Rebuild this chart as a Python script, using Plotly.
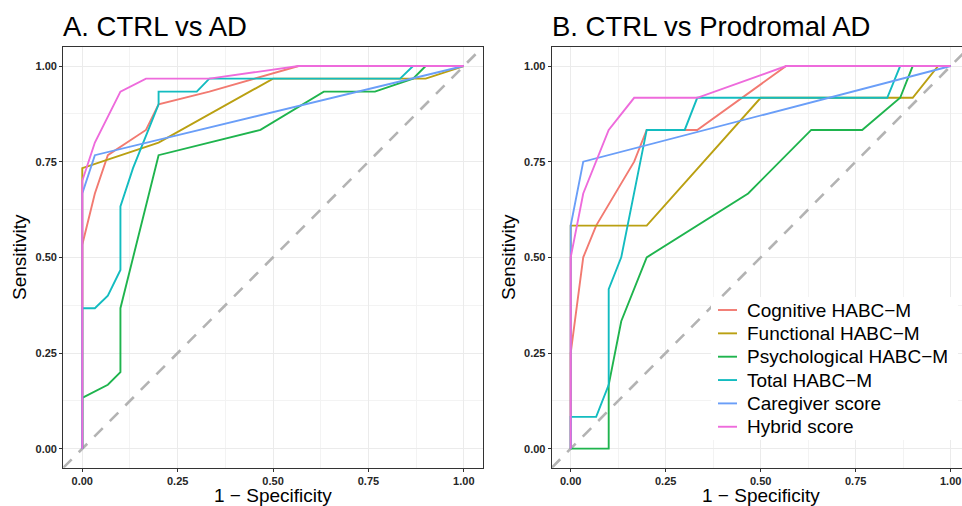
import plotly.graph_objects as go

# ---------------- data ----------------
series_names = ["Cognitive HABC\u2212M", "Functional HABC\u2212M", "Psychological HABC\u2212M",
                "Total HABC\u2212M", "Caregiver score", "Hybrid score"]
series_colors = ["#F27A71", "#BAA012", "#1FB44E", "#13BCC0", "#6A9EF8", "#EE6BDC"]

# Panel A: CTRL vs AD  (x = 1 - specificity, y = sensitivity)
a_cog_x = [0, 0, 0.033, 0.067, 0.167, 0.2, 0.333, 0.567, 1]
a_cog_y = [0, 0.533, 0.667, 0.767, 0.833, 0.9, 0.933, 1, 1]
a_fun_x = [0, 0, 0.2, 0.5, 0.9, 1]
a_fun_y = [0, 0.733, 0.8, 0.967, 0.967, 1]
a_psy_x = [0, 0, 0.067, 0.1, 0.1, 0.2, 0.467, 0.633, 0.767, 0.867, 0.9, 1]
a_psy_y = [0, 0.133, 0.167, 0.2, 0.367, 0.767, 0.833, 0.933, 0.933, 0.967, 1, 1]
a_tot_x = [0, 0, 0.033, 0.067, 0.1, 0.1, 0.133, 0.2, 0.2, 0.3, 0.333, 0.833, 0.867, 1]
a_tot_y = [0, 0.367, 0.367, 0.4, 0.467, 0.633, 0.733, 0.9, 0.933, 0.933, 0.967, 0.967, 1, 1]
a_car_x = [0, 0, 0.033, 1]
a_car_y = [0, 0.667, 0.767, 1]
a_hyb_x = [0, 0, 0.033, 0.1, 0.167, 0.333, 0.567, 1]
a_hyb_y = [0, 0.7, 0.8, 0.933, 0.967, 0.967, 1, 1]

# Panel B: CTRL vs Prodromal AD
b_cog_x = [0, 0, 0.033, 0.067, 0.167, 0.2, 0.333, 0.567, 1]
b_cog_y = [0, 0.25, 0.5, 0.583, 0.75, 0.833, 0.833, 1, 1]
b_fun_x = [0, 0, 0.2, 0.5, 0.9, 0.967, 1]
b_fun_y = [0, 0.583, 0.583, 0.917, 0.917, 1, 1]
b_psy_x = [0, 0.1, 0.1, 0.133, 0.2, 0.467, 0.633, 0.767, 0.867, 0.9, 1]
b_psy_y = [0, 0, 0.167, 0.333, 0.5, 0.667, 0.833, 0.833, 0.917, 1, 1]
b_tot_x = [0, 0, 0.067, 0.1, 0.1, 0.133, 0.2, 0.3, 0.333, 0.833, 0.867, 1]
b_tot_y = [0, 0.083, 0.083, 0.167, 0.417, 0.5, 0.833, 0.833, 0.917, 0.917, 1, 1]
b_car_x = [0, 0, 0.033, 1]
b_car_y = [0, 0.583, 0.75, 1]
b_hyb_x = [0, 0, 0.033, 0.067, 0.1, 0.167, 0.333, 0.567, 1]
b_hyb_y = [0, 0.5, 0.667, 0.75, 0.833, 0.917, 0.917, 1, 1]

tick_vals = [0, 0.25, 0.5, 0.75, 1.0]
tick_text = ["0.00", "0.25", "0.50", "0.75", "1.00"]
diag = [-0.05, 1.05]

panel_titles = ["A. CTRL vs AD", "B. CTRL vs Prodromal AD"]
x_title = "1 \u2212 Specificity"
y_title = "Sensitivity"

# ---------------- figure ----------------
W, H = 962, 506
FONT = "Liberation Sans, Arial, Helvetica, sans-serif"

fig = go.Figure()

panels = [
    ("x", "y", [(a_cog_x, a_cog_y), (a_fun_x, a_fun_y), (a_psy_x, a_psy_y),
                (a_tot_x, a_tot_y), (a_car_x, a_car_y), (a_hyb_x, a_hyb_y)]),
    ("x2", "y2", [(b_cog_x, b_cog_y), (b_fun_x, b_fun_y), (b_psy_x, b_psy_y),
                  (b_tot_x, b_tot_y), (b_car_x, b_car_y), (b_hyb_x, b_hyb_y)]),
]

for xa, ya, curves in panels:
    fig.add_trace(go.Scatter(x=diag, y=diag, mode="lines", xaxis=xa, yaxis=ya,
                             line=dict(color="#B3B3B3", width=2.6, dash="12px,10px"),
                             showlegend=False, hoverinfo="skip"))
    for (cx, cy), name, col in zip(curves, series_names, series_colors):
        fig.add_trace(go.Scatter(x=cx, y=cy, mode="lines", name=name, xaxis=xa, yaxis=ya,
                                 line=dict(color=col, width=1.9), showlegend=False))


def px(p):
    return p / W


def py(p):
    return 1 - p / H


ydom = [py(467.8), py(46.9)]
axis_common = dict(
    tickvals=tick_vals, ticktext=tick_text, ticks="outside", ticklen=3, tickwidth=1,
    tickcolor="#333333", showgrid=True, gridcolor="#EBEBEB", gridwidth=1,
    zeroline=False, showline=True, linecolor="#333333", linewidth=1,
    tickfont=dict(family=FONT, size=11, color="#262626", weight="bold"),
    minor=dict(dtick=0.125, tick0=0, showgrid=True, gridcolor="#F3F3F3", gridwidth=1, ticks=""),
    fixedrange=True,
)

fig.update_layout(
    width=W, height=H, margin=dict(l=0, r=0, t=0, b=0),
    paper_bgcolor="white", plot_bgcolor="white",
    font=dict(family=FONT, color="black"),
    xaxis=dict(domain=[px(63.2), px(482.9)], range=[-0.05, 1.05], anchor="y", mirror=True, **axis_common),
    yaxis=dict(domain=ydom, range=[-0.05, 1.05], anchor="x", mirror=True, **axis_common),
    xaxis2=dict(domain=[px(551.7), 1.0], range=[-0.05, 1.0297], anchor="y2", mirror=True, **axis_common),
    yaxis2=dict(domain=ydom, range=[-0.05, 1.05], anchor="x2", mirror=False, **axis_common),
    showlegend=False,
)

# legend (inside panel B): white box, short line keys and labels
leg_left, leg_right, leg_top, leg_bottom = 711, 958, 297, 440
row0, row_step = 310, 23.35
fig.add_shape(type="rect", xref="paper", yref="paper", x0=px(leg_left), x1=px(leg_right),
              y0=py(leg_bottom), y1=py(leg_top), fillcolor="white", line=dict(width=0),
              layer="above")
for i, (name, col) in enumerate(zip(series_names, series_colors)):
    yc = row0 + i * row_step
    fig.add_shape(type="line", xref="paper", yref="paper", x0=px(718), x1=px(737),
                  y0=py(yc), y1=py(yc), line=dict(color=col, width=1.9), layer="above")
    fig.add_annotation(text=name, x=px(745), y=py(yc), xref="paper", yref="paper",
                       xanchor="left", yanchor="middle", showarrow=False,
                       font=dict(family=FONT, size=19, color="black"))

# panel titles
for t, xl in zip(panel_titles, [63.2, 551.7]):
    fig.add_annotation(text=t, x=px(xl - 2), y=py(26), xref="paper", yref="paper",
                       xanchor="left", yanchor="middle", showarrow=False,
                       font=dict(family=FONT, size=27.5, color="black"))

# axis titles
for xc in [(63.2 + 482.9) / 2, (570.7 + 950.7) / 2]:
    fig.add_annotation(text=x_title, x=px(xc), y=py(495), xref="paper", yref="paper",
                       xanchor="center", yanchor="middle", showarrow=False,
                       font=dict(family=FONT, size=19, color="black"))
for xc in [19, 508]:
    fig.add_annotation(text=y_title, x=px(xc), y=py(257), xref="paper", yref="paper",
                       xanchor="center", yanchor="middle", showarrow=False, textangle=-90,
                       font=dict(family=FONT, size=19, color="black"))

fig.write_html("out.html", config={"displayModeBar": False},
               post_script="document.body.style.margin='0px';document.body.style.overflow='hidden';")
